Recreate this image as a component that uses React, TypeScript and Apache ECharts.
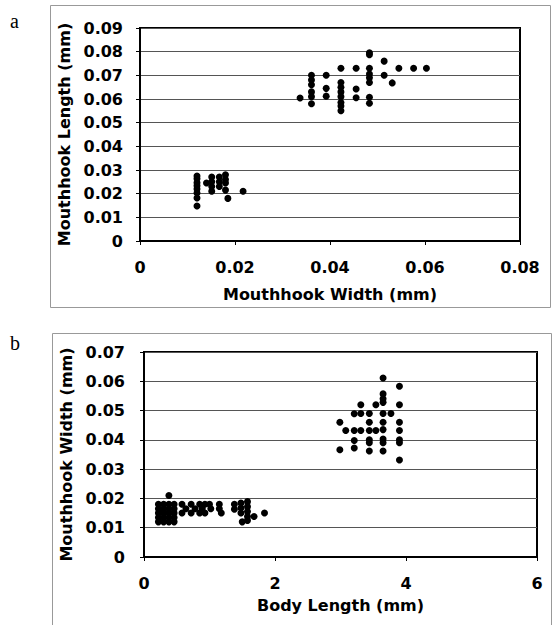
import { useEffect, useRef } from 'react';
import * as echarts from 'echarts';

// Panel a: Mouthhook Width (x) vs Mouthhook Length (y), mm
const aWidth = [
  0.012, 0.012, 0.012, 0.012, 0.012, 0.012, 0.012, 0.012,
  0.014,
  0.0151, 0.0151, 0.0151, 0.0151,
  0.0167, 0.0167, 0.0167,
  0.018, 0.018, 0.018, 0.018,
  0.0185,
  0.0217,
  0.0337,
  0.0361, 0.0361, 0.0361, 0.0361, 0.0361, 0.0361,
  0.0392, 0.0392, 0.0392,
  0.0423, 0.0423, 0.0423, 0.0423, 0.0423, 0.0423, 0.0423, 0.0423,
  0.0455, 0.0455, 0.0455,
  0.0483, 0.0483, 0.0483, 0.0483, 0.0483, 0.0483, 0.0483, 0.0483,
  0.0514, 0.0514,
  0.0531,
  0.0545, 0.0576, 0.0603,
];
const aLength = [
  0.0275, 0.0263, 0.0246, 0.0233, 0.022, 0.0203, 0.0182, 0.0148,
  0.0245,
  0.027, 0.025, 0.023, 0.021,
  0.027, 0.025, 0.023,
  0.028, 0.026, 0.0245, 0.0215,
  0.018,
  0.021,
  0.0604,
  0.07, 0.068, 0.066, 0.063, 0.061, 0.058,
  0.07, 0.0645, 0.0612,
  0.073, 0.067, 0.065, 0.063, 0.061, 0.0585, 0.057, 0.055,
  0.073, 0.0642, 0.0605,
  0.0795, 0.0787, 0.073, 0.0706, 0.069, 0.067, 0.0607, 0.0582,
  0.076, 0.07,
  0.0668,
  0.073, 0.073, 0.073,
];

// Panel b: Body Length (x) vs Mouthhook Width (y), mm
const bBody = [
  0.22, 0.22, 0.22, 0.22, 0.22,
  0.3, 0.3, 0.3, 0.3, 0.3,
  0.38, 0.38, 0.38, 0.38, 0.38, 0.38,
  0.46, 0.46, 0.46, 0.46, 0.46,
  0.58, 0.64, 0.58,
  0.72, 0.78, 0.72,
  0.85, 0.93, 0.89, 0.85, 0.93,
  1.0, 1.02,
  1.15, 1.15, 1.18,
  1.38, 1.38,
  1.48, 1.48, 1.48, 1.5,
  1.58, 1.58, 1.58, 1.58, 1.58,
  1.68, 1.84,
  2.99, 2.99,
  3.08,
  3.21, 3.21, 3.21, 3.21,
  3.31, 3.31, 3.31,
  3.44, 3.44, 3.44, 3.44, 3.44, 3.44,
  3.54, 3.54,
  3.65, 3.65, 3.65, 3.65, 3.65, 3.65, 3.65, 3.65, 3.65, 3.65,
  3.77,
  3.9, 3.9, 3.9, 3.9, 3.9, 3.9, 3.9,
];
const bWidth = [
  0.018, 0.0165, 0.015, 0.0135, 0.012,
  0.018, 0.0165, 0.015, 0.0135, 0.012,
  0.021, 0.018, 0.0165, 0.015, 0.0135, 0.012,
  0.018, 0.0165, 0.015, 0.0135, 0.012,
  0.018, 0.0165, 0.015,
  0.018, 0.0165, 0.015,
  0.018, 0.018, 0.0165, 0.015, 0.015,
  0.018, 0.0165,
  0.018, 0.0165, 0.015,
  0.018, 0.0163,
  0.0184, 0.0167, 0.015, 0.012,
  0.0189, 0.0172, 0.0155, 0.0138, 0.0125,
  0.0138, 0.015,
  0.046, 0.0366,
  0.0432,
  0.0489, 0.0432, 0.0398, 0.0372,
  0.052, 0.049, 0.0432,
  0.049, 0.046, 0.0432, 0.04, 0.039, 0.0362,
  0.052, 0.0432,
  0.0611, 0.0557, 0.054, 0.0528, 0.049, 0.046, 0.0435, 0.0403, 0.039, 0.0362,
  0.049,
  0.0583, 0.052, 0.046, 0.0432, 0.04, 0.039, 0.0331,
];

const aXTicks = ['0', '0.02', '0.04', '0.06', '0.08'];
const aYTicks = ['0', '0.01', '0.02', '0.03', '0.04', '0.05', '0.06', '0.07', '0.08', '0.09'];
const bXTicks = ['0', '2', '4', '6'];
const bYTicks = ['0', '0.01', '0.02', '0.03', '0.04', '0.05', '0.06', '0.07'];

const FONT = 'DejaVu Sans';

function zip(xs: number[], ys: number[]) {
  return xs.map((x, i) => [x, ys[i]]);
}

function labelFmt(labels: string[], step: number) {
  return (v: number) => labels[Math.round(v / step)] ?? '';
}

export default function App() {
  const ref = useRef<HTMLDivElement>(null);
  useEffect(() => {
    document.body.style.margin = '0';
    const chart = echarts.init(ref.current!, null, { renderer: 'svg' });
    const labelStyle = { color: '#000', fontFamily: FONT, fontWeight: 'bold' as const, fontSize: 16 };
    const axisCommon = {
      axisLine: { show: true, lineStyle: { color: '#000', width: 2 } },
      axisTick: { show: true, inside: false, length: 4, lineStyle: { color: '#000', width: 1 } },
      nameTextStyle: { ...labelStyle },
    };
    chart.setOption({
      animation: false,
      grid: [
        { left: 140, top: 28, width: 380, height: 213, show: true, borderColor: '#000', borderWidth: 2, backgroundColor: 'transparent' },
        { left: 144, top: 352, width: 393, height: 205, show: true, borderColor: '#000', borderWidth: 2, backgroundColor: 'transparent' },
      ],
      xAxis: [
        {
          ...axisCommon,
          gridIndex: 0, type: 'value', min: 0, max: 0.08, interval: 0.02,
          name: 'Mouthhook Width (mm)', nameLocation: 'middle', nameGap: 45,
          splitLine: { show: false },
          axisLabel: { ...labelStyle, margin: 18, formatter: labelFmt(aXTicks, 0.02) },
        },
        {
          ...axisCommon,
          gridIndex: 1, type: 'value', min: 0, max: 6, interval: 2,
          name: 'Body Length (mm)', nameLocation: 'middle', nameGap: 40,
          splitLine: { show: false },
          axisLabel: { ...labelStyle, margin: 18, formatter: labelFmt(bXTicks, 2) },
        },
      ],
      yAxis: [
        {
          ...axisCommon,
          gridIndex: 0, type: 'value', min: 0, max: 0.09, interval: 0.01,
          name: 'Mouthhook Length (mm)', nameLocation: 'middle', nameGap: 58, nameRotate: 90,
          splitLine: { show: true, lineStyle: { color: '#555', width: 1 } },
          axisLabel: { ...labelStyle, margin: 17, formatter: labelFmt(aYTicks, 0.01) },
        },
        {
          ...axisCommon,
          gridIndex: 1, type: 'value', min: 0, max: 0.07, interval: 0.01,
          name: 'Mouthhook Width (mm)', nameLocation: 'middle', nameGap: 62, nameRotate: 90,
          splitLine: { show: true, lineStyle: { color: '#555', width: 1 } },
          axisLabel: { ...labelStyle, margin: 19, formatter: labelFmt(bYTicks, 0.01) },
        },
      ],
      series: [
        {
          type: 'scatter', xAxisIndex: 0, yAxisIndex: 0,
          data: zip(aWidth, aLength), symbol: 'circle', symbolSize: 7,
          itemStyle: { color: '#000', opacity: 1 },
        },
        {
          type: 'scatter', xAxisIndex: 1, yAxisIndex: 1,
          data: zip(bBody, bWidth), symbol: 'circle', symbolSize: 7,
          itemStyle: { color: '#000', opacity: 1 },
        },
      ],
      graphic: [
        { type: 'rect', shape: { x: 50.5, y: 5.5, width: 500, height: 302 }, style: { fill: 'none', stroke: '#999', lineWidth: 1 } },
        { type: 'rect', shape: { x: 52.5, y: 333.5, width: 499, height: 310 }, style: { fill: 'none', stroke: '#999', lineWidth: 1 } },
        { type: 'text', left: 10, top: 11, style: { text: 'a', font: '20px "Liberation Serif"', fill: '#000' } },
        { type: 'text', left: 10, top: 333, style: { text: 'b', font: '20px "Liberation Serif"', fill: '#000' } },
      ],
    });
    return () => chart.dispose();
  }, []);
  return <div ref={ref} style={{ width: 554, height: 625 }} />;
}
